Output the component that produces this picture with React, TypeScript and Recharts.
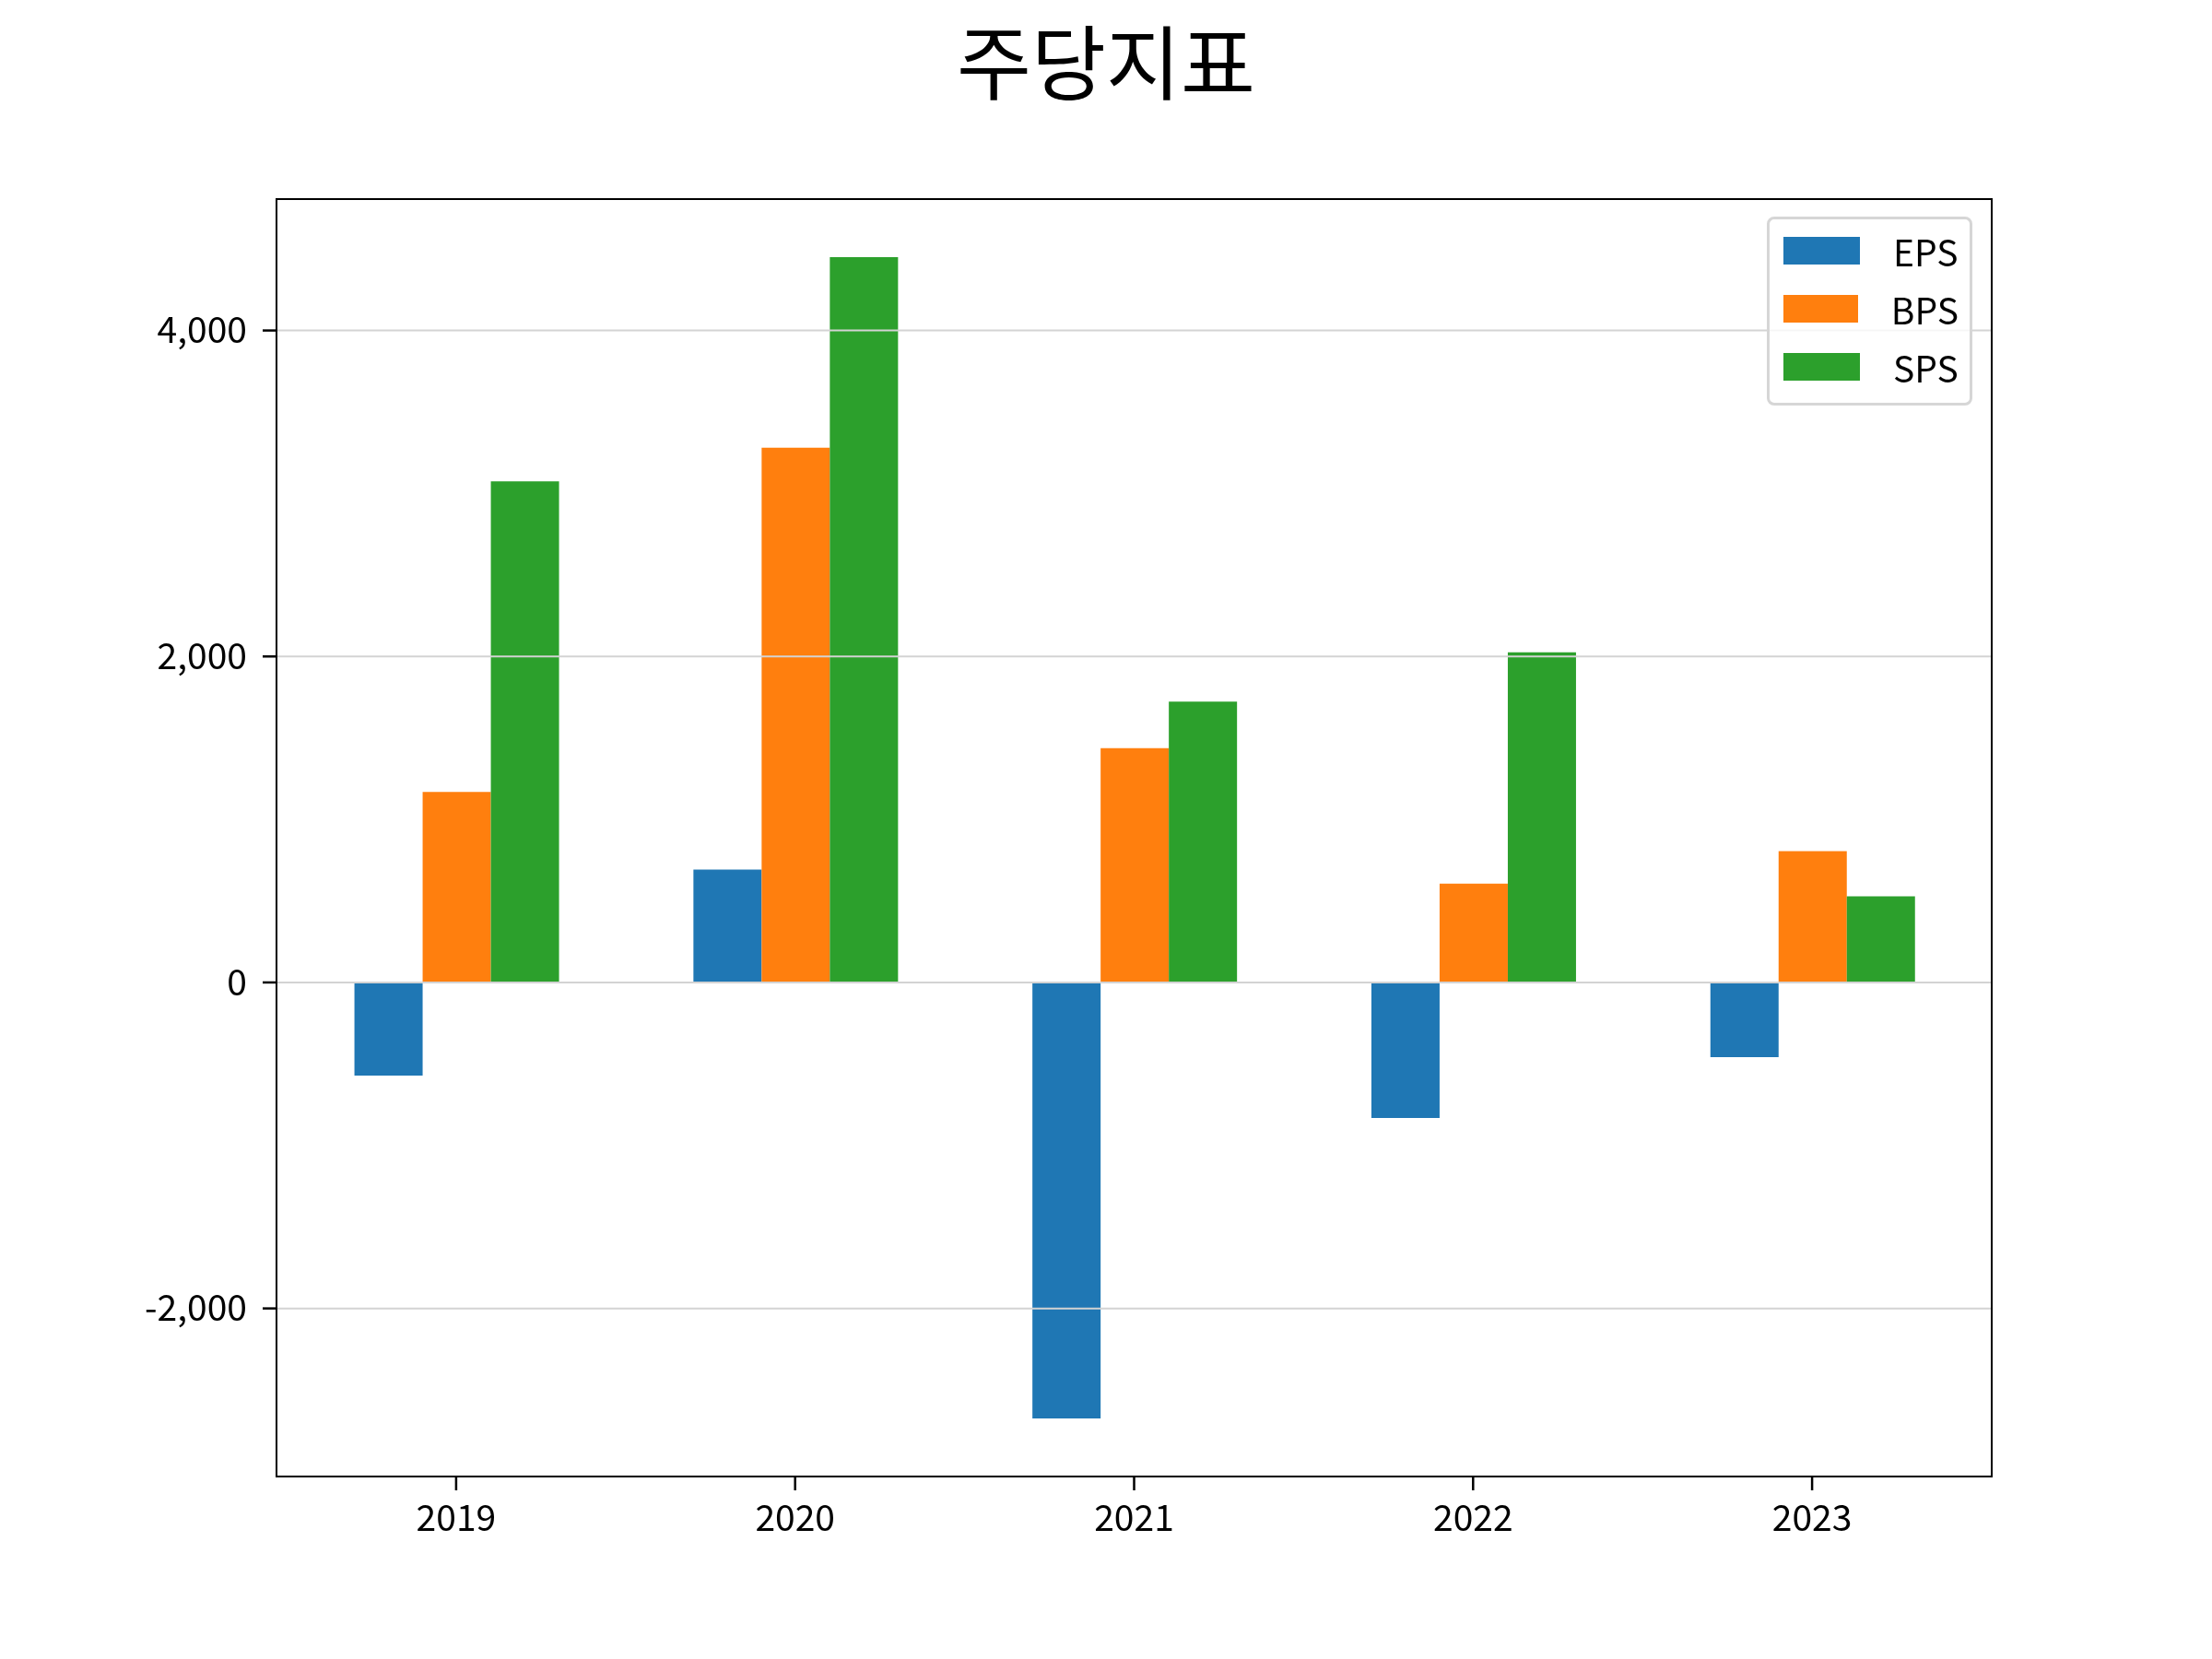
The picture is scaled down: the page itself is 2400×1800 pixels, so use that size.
import React from "react";
import { Bar, BarChart, Legend, ReferenceLine, XAxis, YAxis } from "recharts";

const years = ["2019", "2020", "2021", "2022", "2023"];
const eps = [-571, 693, -2675, -831, -459];
const bps = [1169, 3281, 1437, 606, 805];
const sps = [3074, 4450, 1723, 2026, 528];
const yTicks = [-2000, 0, 2000, 4000];

const seriesNames = ["EPS", "BPS", "SPS"];
const seriesColors = ["#1f77b4", "#ff7f0e", "#2ca02c"];

const data = years.map((year, i) => ({ year, EPS: eps[i], BPS: bps[i], SPS: sps[i] }));

// matplotlib-style 5% margin around the data range
const allValues = [...eps, ...bps, ...sps];
const lo = Math.min(...allValues);
const hi = Math.max(...allValues);
const pad = (hi - lo) * 0.05;
const yDomain: [number, number] = [lo - pad, hi + pad];

const FONT = '"Noto Sans CJK KR", "Noto Sans", sans-serif';
const fmt = (v: number) => v.toLocaleString("en-US");
const tickStroke = { stroke: "#000", strokeWidth: 2.5 };

// plot box layout
const W = 2400;
const H = 1800;
const plotLeft = 300;
const plotTop = 216;
const plotRight = 2161;
const plotBottom = 1602;
const spine = 2.5;

function LegendBox() {
  return (
    <div
      style={{
        border: "3px solid #d6d6d6",
        borderRadius: 8,
        background: "rgba(255,255,255,0.8)",
        padding: "2px 12px 8px 15px",
        fontFamily: FONT,
        fontSize: 39,
        width: 223,
        boxSizing: "border-box",
      }}
    >
      {seriesNames.map((name, i) => (
        <div key={name} style={{ display: "flex", alignItems: "center", height: 63 }}>
          <span style={{ display: "inline-block", width: 83, height: 30, background: seriesColors[i] }} />
          <span style={{ marginLeft: 36, color: "#000" }}>{name}</span>
        </div>
      ))}
    </div>
  );
}

export default function App() {
  return (
    <div style={{ position: "fixed", left: 0, top: 0, width: W, height: H, background: "#fff" }}>
      <div
        style={{
          position: "absolute",
          top: 19,
          left: 0,
          width: W,
          textAlign: "center",
          fontFamily: FONT,
          fontSize: 88,
          lineHeight: "88px",
          color: "#000",
        }}
      >
        주당지표
      </div>
      <BarChart
        width={W}
        height={H}
        data={data}
        margin={{ top: plotTop, right: W - plotRight, bottom: 0, left: 0 }}
        barCategoryGap="20%"
        barGap={0}
      >
        <XAxis
          dataKey="year"
          height={H - plotBottom}
          padding={{ left: 11, right: 11 }}
          tickSize={15}
          tickMargin={16}
          axisLine={false}
          tickLine={tickStroke}
          tick={{ fill: "#000", fontSize: 39, fontFamily: FONT }}
        />
        <YAxis
          width={plotLeft}
          type="number"
          domain={yDomain}
          allowDataOverflow
          ticks={yTicks}
          tickFormatter={fmt}
          tickSize={15}
          tickMargin={17}
          axisLine={false}
          tickLine={tickStroke}
          tick={{ fill: "#000", fontSize: 39, fontFamily: FONT }}
        />
        <Legend
          layout="horizontal"
          verticalAlign="middle"
          align="center"
          content={<LegendBox />}
          wrapperStyle={{ position: "absolute", left: 1917, top: 235, width: 223 }}
        />
        {seriesNames.map((name, i) => (
          <Bar key={name} dataKey={name} fill={seriesColors[i]} isAnimationActive={false} />
        ))}
        {yTicks.map((t) => (
          <ReferenceLine key={t} y={t} stroke="#d3d3d3" strokeWidth={2} />
        ))}
      </BarChart>
      {/* axes frame (all four spines) */}
      <div
        style={{
          position: "absolute",
          left: plotLeft - spine / 2,
          top: plotTop - spine / 2,
          width: plotRight - plotLeft + spine,
          height: plotBottom - plotTop + spine,
          border: `${spine}px solid #000`,
          boxSizing: "border-box",
          pointerEvents: "none",
        }}
      />
    </div>
  );
}
